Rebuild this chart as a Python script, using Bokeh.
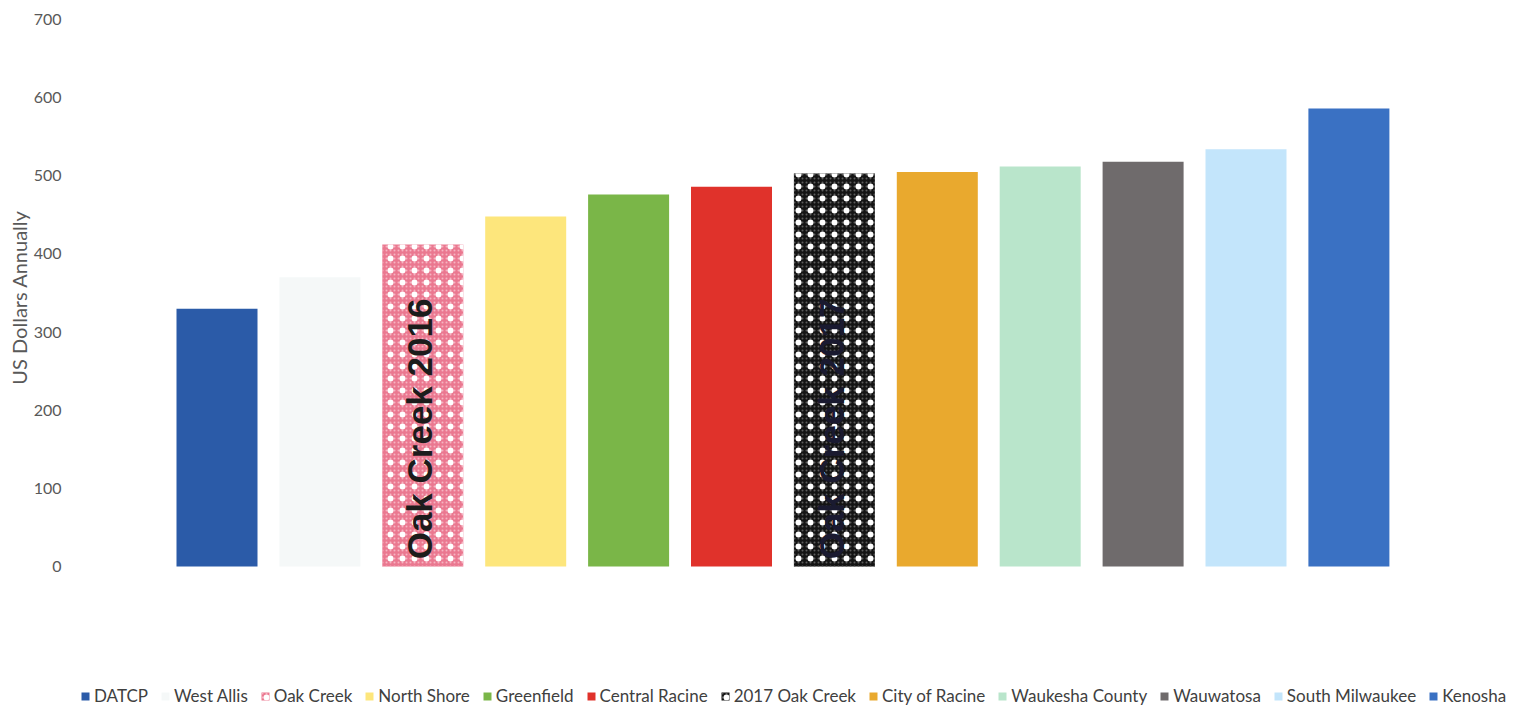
import math
from bokeh.plotting import figure
from bokeh.models import ColumnDataSource, Legend, LegendItem, FixedTicker, Range1d, Title
from bokeh.core.properties import value
from bokeh.embed import file_html
from bokeh.resources import INLINE

# ---- data ----
series = ["DATCP", "West Allis", "Oak Creek", "North Shore", "Greenfield", "Central Racine",
          "2017 Oak Creek", "City of Racine", "Waukesha County", "Wauwatosa",
          "South Milwaukee", "Kenosha"]
values = [330, 370, 412, 448, 476, 486, 503, 505, 512, 518, 534, 586]
colors = ["#2b5ba8", "#f5f8f8", "#ea7890", "#fde67c", "#7ab648", "#e0322b",
          "#141414", "#e9a92e", "#b9e5cb", "#6f6b6c", "#c3e5fb", "#3a71c3"]
y_ticks = [0, 100, 200, 300, 400, 500, 600, 700]
annotations = [("Oak Creek 2016", 3, 176), ("Oak Creek 2017", 7, 176)]
y_title = "US Dollars Annually"

W, H = 1513, 709
frame_left = 80
px_per_x = 102.9
x0_px = 216.5  # pixel of first bar center
x_start = 1 - (x0_px - frame_left) / px_per_x
x_end = x_start + (W - frame_left) / px_per_x
px_per_y = (566 - 19) / 700.0
y_start = -(H - 566) / px_per_y
y_end = 700 + 19 / px_per_y

p = figure(width=W, height=H, output_backend="svg", toolbar_location=None,
           x_range=Range1d(x_start, x_end), y_range=Range1d(y_start, y_end),
           x_axis_location=None, min_border_left=frame_left, min_border_right=0,
           min_border_top=0, min_border_bottom=0)
p.outline_line_color = None
p.grid.visible = False
p.background_fill_color = "white"
p.border_fill_color = "white"

ya = p.yaxis[0]
ya.ticker = FixedTicker(ticks=y_ticks)
ya.axis_line_color = None
ya.major_tick_line_color = None
ya.minor_tick_line_color = None
ya.major_label_standoff = 13
ya.major_label_text_font = "Lato"
ya.major_label_text_font_size = "16px"
ya.major_label_text_color = "#595959"

ttl = Title(text=y_title, align="right", offset=210, standoff=0,
            text_font="Lato", text_font_style="normal", text_font_size="20px",
            text_color="#595959")
p.add_layout(ttl, "left")

bar_w = 81 / px_per_x
items = []
for i, (name, v, c) in enumerate(zip(series, values, colors)):
    src = ColumnDataSource(dict(x=[i + 1], top=[v]))
    if name == "Oak Creek":
        r1 = p.vbar(x="x", top="top", bottom=0, width=bar_w, source=src, fill_color=c,
                    line_color=None, hatch_pattern="dot", hatch_color="#f6b4c2",
                    hatch_scale=4, hatch_weight=1)
        r2 = p.vbar(x="x", top="top", bottom=0, width=bar_w, source=src, fill_alpha=0,
                    line_color=None, hatch_pattern="dot", hatch_color="white",
                    hatch_scale=12, hatch_weight=1.5)
        rs = [r1, r2]
    elif name == "2017 Oak Creek":
        r1 = p.vbar(x="x", top="top", bottom=0, width=bar_w, source=src, fill_color=c,
                    line_color=None, hatch_pattern="dot", hatch_color="#5c5c5c",
                    hatch_scale=4, hatch_weight=1)
        r2 = p.vbar(x="x", top="top", bottom=0, width=bar_w, source=src, fill_alpha=0,
                    line_color=None, hatch_pattern="dot", hatch_color="white",
                    hatch_scale=12, hatch_weight=1.5)
        rs = [r1, r2]
    else:
        r1 = p.vbar(x="x", top="top", bottom=0, width=bar_w, source=src, fill_color=c,
                    line_color=None)
        rs = [r1]
    items.append(LegendItem(label=name, renderers=rs))

for txt, xi, yv in annotations:
    col = "#1c1c1c" if xi == 3 else "#1a1a30"
    p.text(x=[xi - 0.03], y=[yv], text=[txt], angle=math.pi / 2,
           text_font=value("Liberation Sans"), text_font_style="bold",
           text_font_size="35px", text_color=col, text_align="center",
           text_baseline="middle")

legend = Legend(items=items, orientation="horizontal", location=(0, 3),
                glyph_width=10, glyph_height=10, label_standoff=4, spacing=12,
                padding=0, margin=0, label_height=18,
                label_text_font="Lato", label_text_font_size="17px",
                label_text_color="#404040", border_line_color=None,
                background_fill_alpha=0)
p.add_layout(legend, "center")

open("out.html", "w").write(file_html(p, INLINE))
